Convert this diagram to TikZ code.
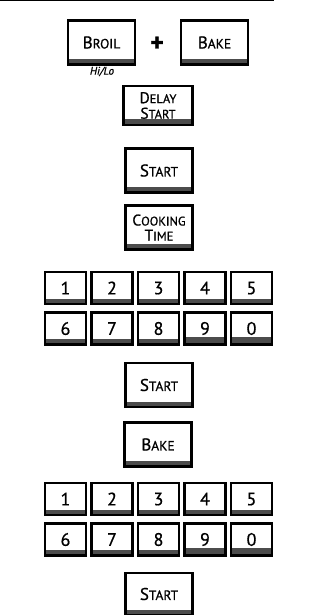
\documentclass[tikz,border=0pt]{standalone}
\usepackage{fontspec}
\setsansfont{PT Sans}[FakeBold=0.8]
\usetikzlibrary{positioning}
\newcommand{\keyinit}[1]{{\fontsize{17}{15}\selectfont #1}}

\begin{document}
\begin{tikzpicture}[x=1pt, y=-1pt,
    pad/.style={draw, line width=2.2pt, fill=white, inner sep=0pt,
                minimum width=67pt, minimum height=44pt, align=center,
                font=\sffamily\fontsize{13.5}{15}\selectfont,
                path picture={\fill[black!70]
                  (path picture bounding box.south west) rectangle
                  ([yshift=5.5pt]path picture bounding box.south east);}},
    num/.style={pad, minimum width=41pt, minimum height=32pt,
                font=\sffamily\fontsize{18}{18}\selectfont},
    numdeep/.style={num, path picture={\fill[black!70]
                  (path picture bounding box.south west) rectangle
                  ([yshift=7.5pt]path picture bounding box.south east);}}
  ]
  \clip (0,0) rectangle (320,615);
  \fill[white] (0,0) rectangle (320,615);
  \draw[line width=1.5pt] (0,0.7) -- (274,0.7);

  % broil + bake
  \node[pad] (broil) at (101.5, 42.5) {\keyinit{B}ROIL};
  \node[pad] (bake) at (214.5, 42.5) {\keyinit{B}AKE};
  \node[font=\sffamily\bfseries\fontsize{26}{26}\selectfont] (plus) at (157, 44) {+};
  \node[font=\sffamily\itshape\fontsize{11}{10}\selectfont] (hilo) at (102, 71.5) {Hi/Lo};

  \node[pad, minimum width=69pt, minimum height=39pt,
        font=\sffamily\fontsize{12.5}{15.5}\selectfont] (delay) at (158, 105.5)
    {{\fontsize{15.5}{14}\selectfont D}ELAY\\{\fontsize{15.5}{14}\selectfont S}TART};
  \node[pad] (start1) at (159, 170.5) {\keyinit{S}TART};
  \node[pad, font=\sffamily\fontsize{12.5}{15}\selectfont] (cooktime) at (159, 227.5)
    {{\fontsize{15.5}{14}\selectfont C}OOKING\\{\fontsize{15.5}{14}\selectfont T}IME};

  % time keypad
  \node[num] (t1) at (65.5, 288) {1};
  \node[num] (t2) at (112, 288) {2};
  \node[num] (t3) at (158.5, 288) {3};
  \node[num] (t4) at (205, 288) {4};
  \node[num] (t5) at (251.5, 288) {5};
  \node[num] (t6) at (65.5, 328.5) {6};
  \node[num] (t7) at (112, 328.5) {7};
  \node[num] (t8) at (158.5, 328.5) {8};
  \node[numdeep] (t9) at (205, 328.5) {9};
  \node[numdeep] (t0) at (251.5, 328.5) {0};

  \node[pad] (start2) at (159, 385) {\keyinit{S}TART};
  \node[pad] (bake2) at (158, 444.5) {\keyinit{B}AKE};

  % temperature keypad
  \node[num] (p1) at (65.5, 499) {1};
  \node[num] (p2) at (112, 499) {2};
  \node[num] (p3) at (158.5, 499) {3};
  \node[num] (p4) at (205, 499) {4};
  \node[num] (p5) at (251.5, 499) {5};
  \node[num] (p6) at (65.5, 539.5) {6};
  \node[num] (p7) at (112, 539.5) {7};
  \node[num] (p8) at (158.5, 539.5) {8};
  \node[numdeep] (p9) at (205, 539.5) {9};
  \node[numdeep] (p0) at (251.5, 539.5) {0};

  \node[pad, minimum height=42pt] (start3) at (159, 594) {\keyinit{S}TART};
\end{tikzpicture}
\end{document}
